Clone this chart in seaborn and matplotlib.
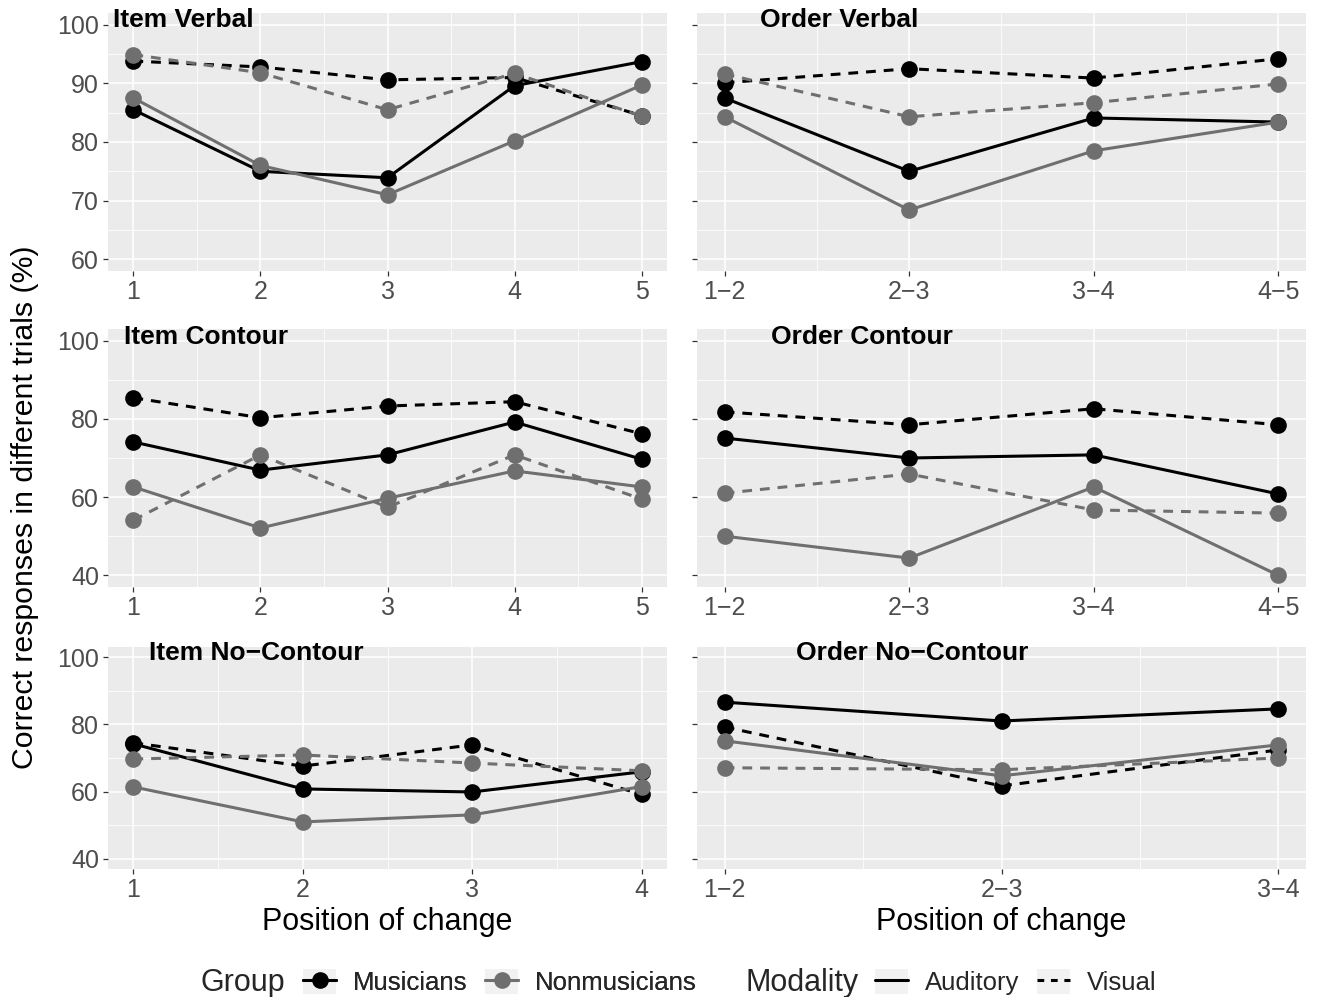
import numpy as np
import pandas as pd
import matplotlib
matplotlib.use("Agg")
import matplotlib.pyplot as plt
from matplotlib.lines import Line2D
from matplotlib.patches import Patch
from matplotlib.legend_handler import HandlerTuple
import seaborn as sns

sns.set_theme(style="darkgrid")
plt.rcParams['font.family'] = ['Liberation Sans', 'DejaVu Sans']

MINUS = "\u2212"

# ---------------- data ----------------
item_pos5 = [1, 2, 3, 4, 5]
item_pos4 = [1, 2, 3, 4]
order_pos4 = [1, 2, 3, 4]
order_pos3 = [1, 2, 3]
item_labels5 = ["1", "2", "3", "4", "5"]
item_labels4 = ["1", "2", "3", "4"]
order_labels4 = ["1" + MINUS + "2", "2" + MINUS + "3", "3" + MINUS + "4", "4" + MINUS + "5"]
order_labels3 = ["1" + MINUS + "2", "2" + MINUS + "3", "3" + MINUS + "4"]

# Item Verbal
iv_mus_aud = [85.5, 75.0, 73.9, 89.6, 93.7]
iv_non_aud = [87.5, 76.0, 71.0, 80.2, 89.7]
iv_mus_vis = [93.8, 92.8, 90.6, 91.0, 84.5]
iv_non_vis = [94.9, 91.8, 85.5, 91.7, 84.4]
# Order Verbal
ov_mus_aud = [87.5, 75.0, 84.1, 83.4]
ov_non_aud = [84.3, 68.4, 78.5, 83.4]
ov_mus_vis = [90.1, 92.5, 90.9, 94.2]
ov_non_vis = [91.6, 84.3, 86.7, 89.9]
# Item Contour
ic_mus_aud = [74.1, 66.9, 70.8, 79.2, 69.7]
ic_non_aud = [62.6, 52.1, 59.7, 66.7, 62.6]
ic_mus_vis = [85.4, 80.3, 83.3, 84.4, 76.2]
ic_non_vis = [54.1, 70.8, 57.4, 70.8, 59.5]
# Order Contour
oc_mus_aud = [75.1, 70.0, 70.8, 60.8]
oc_non_aud = [50.0, 44.4, 62.6, 40.0]
oc_mus_vis = [81.8, 78.5, 82.6, 78.5]
oc_non_vis = [61.0, 65.9, 56.7, 55.9]
# Item No-Contour
inc_mus_aud = [74.2, 60.8, 59.9, 65.9]
inc_non_aud = [61.4, 51.0, 53.1, 61.5]
inc_mus_vis = [74.5, 67.6, 73.9, 59.2]
inc_non_vis = [69.7, 70.9, 68.5, 66.2]
# Order No-Contour
onc_mus_aud = [86.6, 81.0, 84.6]
onc_non_aud = [75.1, 64.7, 73.9]
onc_mus_vis = [79.2, 61.7, 72.4]
onc_non_vis = [67.1, 66.5, 70.0]

groups = ["Musicians", "Nonmusicians"]
modalities = ["Auditory", "Visual"]

panels = [
    dict(title="Item Verbal", pos=item_pos5, labels=item_labels5,
         series=[iv_mus_aud, iv_non_aud, iv_mus_vis, iv_non_vis]),
    dict(title="Order Verbal", pos=order_pos4, labels=order_labels4,
         series=[ov_mus_aud, ov_non_aud, ov_mus_vis, ov_non_vis]),
    dict(title="Item Contour", pos=item_pos5, labels=item_labels5,
         series=[ic_mus_aud, ic_non_aud, ic_mus_vis, ic_non_vis]),
    dict(title="Order Contour", pos=order_pos4, labels=order_labels4,
         series=[oc_mus_aud, oc_non_aud, oc_mus_vis, oc_non_vis]),
    dict(title="Item No" + MINUS + "Contour", pos=item_pos4, labels=item_labels4,
         series=[inc_mus_aud, inc_non_aud, inc_mus_vis, inc_non_vis]),
    dict(title="Order No" + MINUS + "Contour", pos=order_pos3, labels=order_labels3,
         series=[onc_mus_aud, onc_non_aud, onc_mus_vis, onc_non_vis]),
]
series_keys = [("Musicians", "Auditory"), ("Nonmusicians", "Auditory"),
               ("Musicians", "Visual"), ("Nonmusicians", "Visual")]

# ---------------- layout ----------------
W, H = 1317, 997
fig = plt.figure(figsize=(W / 100, H / 100), dpi=100)
fig.patch.set_facecolor("white")

col_x = [(108, 667), (697, 1306)]
row_y = [(13, 271), (329, 587), (647, 869)]
row_ylim = [(58, 102), (37, 103), (37, 103)]
row_major = [[60, 70, 80, 90, 100], [40, 60, 80, 100], [40, 60, 80, 100]]
row_minor = [[65, 75, 85, 95], [50, 70, 90], [50, 70, 90]]
title_px = [(113, 20), (760, 20), (124, 337), (771, 337), (149, 653), (796, 653)]

palette = {"Musicians": "black", "Nonmusicians": "#6f6f6f"}
dashes = {"Auditory": "", "Visual": (3.2, 2.6)}
markers = {"Auditory": "o", "Visual": "o"}

TICK_COLOR = "#4d4d4d"
for i, p in enumerate(panels):
    r, c = divmod(i, 2)
    x0, x1 = col_x[c]
    y0, y1 = row_y[r]
    ax = fig.add_axes([x0 / W, 1 - y1 / H, (x1 - x0) / W, (y1 - y0) / H])
    ax.set_facecolor("#ebebeb")

    rows = []
    for (g, m), vals in zip(series_keys, p["series"]):
        for xv, yv in zip(p["pos"], vals):
            rows.append(dict(pos=xv, val=yv, Group=g, Modality=m))
    df = pd.DataFrame(rows)

    sns.lineplot(data=df, x="pos", y="val", hue="Group", style="Modality",
                 hue_order=groups, style_order=modalities,
                 palette=palette, dashes=dashes, markers=markers,
                 markersize=12, markeredgewidth=0, linewidth=2.2,
                 legend=False, ax=ax, zorder=3)

    rng = p["pos"][-1] - p["pos"][0]
    ax.set_xlim(p["pos"][0] - 0.05 * rng, p["pos"][-1] + 0.05 * rng)
    ax.set_ylim(*row_ylim[r])
    ax.set_xticks(p["pos"])
    ax.set_xticks([v + 0.5 for v in p["pos"][:-1]], minor=True)
    ax.set_yticks(row_major[r])
    ax.set_yticks(row_minor[r], minor=True)
    ax.grid(True, which="major", color="white", linewidth=1.1)
    ax.grid(True, which="minor", color="white", linewidth=0.55)
    ax.set_axisbelow(True)
    for s in ax.spines.values():
        s.set_visible(False)
    ax.set_xticklabels(p["labels"])
    if c == 0:
        ax.set_yticklabels([str(v) for v in row_major[r]])
    else:
        ax.set_yticklabels([])
    ax.tick_params(axis="both", which="major", length=3.5, width=0.9,
                   color="#333333", labelcolor=TICK_COLOR, labelsize=18, pad=3,
                   bottom=True, left=True)
    ax.tick_params(axis="both", which="minor", length=0)
    ax.set_xlabel("")
    ax.set_ylabel("")
    tx, ty = title_px[i]
    fig.text(tx / W, 1 - ty / H, p["title"], fontsize=19, fontweight="bold",
             ha="left", va="center", color="black", zorder=10)

# axis titles
for c in range(2):
    x0, x1 = col_x[c]
    fig.text((x0 + x1) / 2 / W, 1 - 922 / H, "Position of change", fontsize=22,
             ha="center", va="center", color="black")
fig.text(25 / W, 1 - 507 / H, "Correct responses in different trials (%)",
         fontsize=21.8, rotation=90, ha="center", va="center", color="black")

# legends
fig.text(200 / W, 1 - 983 / H, "Group", fontsize=22, ha="left", va="center")
fig.text(746 / W, 1 - 983 / H, "Modality", fontsize=22, ha="left", va="center")
key_bg = "#f2f2f2"
g_handles = [(Patch(facecolor=key_bg, edgecolor="none"),
              Line2D([0], [0], color=palette[g], marker="o", markersize=12,
                     markeredgewidth=0, linewidth=2.2)) for g in groups]
m_handles = [(Patch(facecolor=key_bg, edgecolor="none"),
              Line2D([0], [0], color="black", linewidth=2.2, linestyle="-")),
             (Patch(facecolor=key_bg, edgecolor="none"),
              Line2D([0], [0], color="black", linewidth=2.2, linestyle=(0, (2.2, 2.2))))]
hm = {tuple: HandlerTuple(ndivide=1, pad=0)}
leg1 = fig.legend(g_handles, groups, loc="center left", handler_map=hm,
                  bbox_to_anchor=(303 / W, 1 - 982 / H), ncol=2, frameon=False,
                  fontsize=18.5, handlelength=1.3, handleheight=1.1,
                  handletextpad=0.66, columnspacing=0.66, borderpad=0,
                  borderaxespad=0)
leg2 = fig.legend(m_handles, modalities, loc="center left", handler_map=hm,
                  bbox_to_anchor=(875 / W, 1 - 982 / H), ncol=2, frameon=False,
                  fontsize=18.5, handlelength=1.3, handleheight=1.1,
                  handletextpad=0.66, columnspacing=0.66, borderpad=0,
                  borderaxespad=0)
fig.add_artist(leg1)

fig.savefig("out.png", dpi=100, facecolor="white")
